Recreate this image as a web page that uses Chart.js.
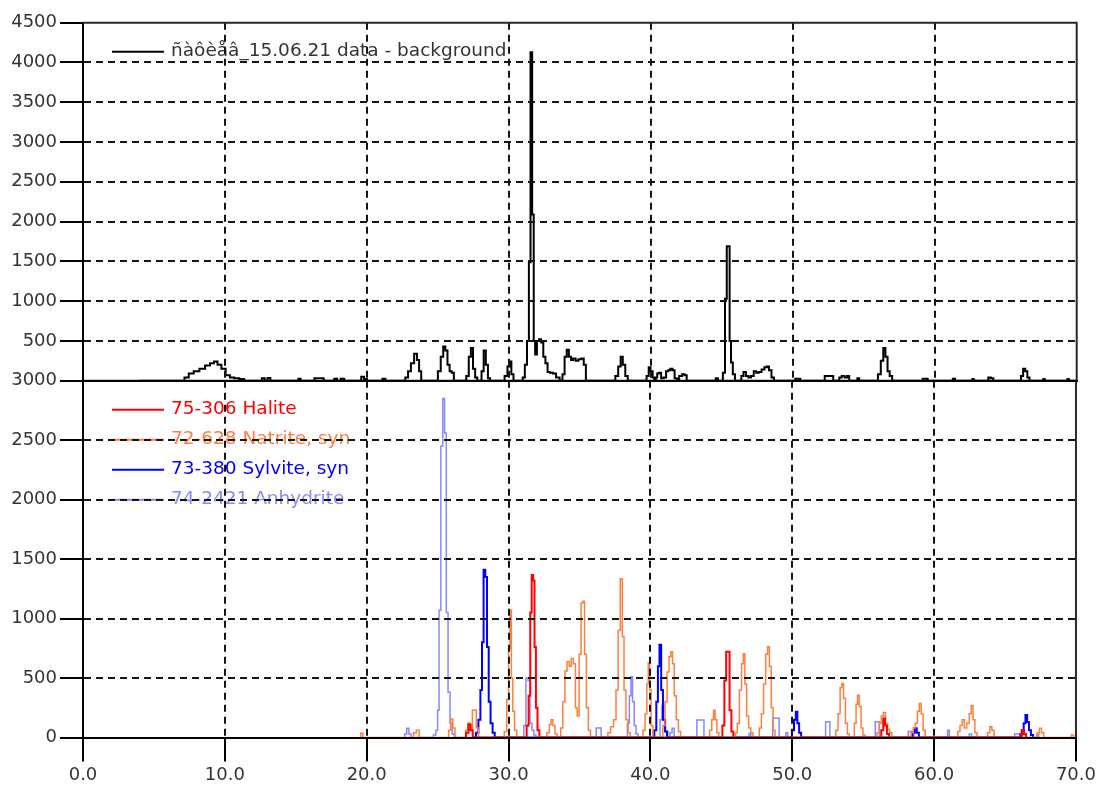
<!DOCTYPE html>
<html>
<head>
<meta charset="utf-8">
<script src="https://cdn.jsdelivr.net/npm/chart.js@4"></script>
<style>
  html, body { margin: 0; padding: 0; background: #fff; }
  #wrap { position: relative; width: 1099px; height: 787px; }
  canvas { position: absolute; left: 0; }
  #top-chart { top: 0; }
  #bottom-chart { top: 360px; }
</style>
</head>
<body>
<div id="wrap">
  <canvas id="bottom-chart" width="1099" height="427"></canvas>
  <canvas id="top-chart" width="1099" height="401"></canvas>
</div>
<script>
// 2-theta axis and intensity ticks
const twoThetaTicks = [0, 10, 20, 30, 40, 50, 60, 70];
const measuredTicks = [0, 500, 1000, 1500, 2000, 2500, 3000, 3500, 4000, 4500];
const referenceTicks = [0, 500, 1000, 1500, 2000, 2500, 3000];

// measured pattern, background removed: [2theta, counts]
const measuredLabel = 'ñàôèåâ_15.06.21 data - background';
const measured = [
  [4.0,0],[7.0,0],[7.3,40],[7.6,90],[8.0,120],[8.4,150],[8.8,190],[9.1,220],[9.35,240],[9.6,200],[9.9,150],[10.2,70],[10.5,40],[10.8,30],[11.2,20],[11.5,0],
  [12.5,0],[12.7,30],[12.9,0],[13.1,35],[13.3,0],
  [15.1,0],[15.25,25],[15.4,0],
  [16.2,0],[16.4,30],[16.8,30],[17.1,0],[17.6,0],[17.8,25],[18.0,0],[18.3,25],[18.5,0],
  [19.5,0],[19.7,50],[19.9,20],[20.1,0],
  [21.0,0],[21.2,25],[21.4,0],
  [22.6,0],[22.8,40],[23.0,120],[23.2,220],[23.45,340],[23.6,260],[23.75,120],[23.9,0],
  [24.9,0],[25.1,120],[25.3,300],[25.45,430],[25.6,380],[25.75,200],[25.9,120],[26.05,100],[26.2,0],
  [26.9,0],[27.1,60],[27.25,300],[27.4,410],[27.55,150],[27.7,40],[27.85,0],
  [28.0,0],[28.15,120],[28.3,380],[28.45,200],[28.6,30],[28.75,0],
  [29.6,0],[29.8,60],[30.0,180],[30.1,240],[30.25,80],[30.4,0],
  [30.9,0],[31.05,40],[31.2,200],[31.35,500],[31.47,1490],[31.58,4130],[31.7,2090],[31.8,500],[31.9,330],[32.05,500],[32.2,520],[32.35,480],[32.5,300],[32.65,220],[32.8,110],[33.0,100],[33.2,90],[33.45,40],[33.7,0],
  [33.85,80],[34.0,300],[34.15,390],[34.3,300],[34.45,260],[34.6,280],[34.8,250],[35.0,270],[35.2,280],[35.35,200],[35.5,0],
  [37.4,0],[37.6,60],[37.8,180],[37.95,300],[38.1,200],[38.3,60],[38.45,0],
  [39.6,0],[39.8,60],[39.9,170],[40.05,120],[40.2,40],[40.3,0],[40.4,40],[40.5,90],[40.65,100],[40.8,30],[41.0,40],[41.15,120],[41.3,130],[41.45,150],[41.6,130],[41.75,30],[41.9,20],[42.1,60],[42.3,80],[42.45,70],[42.6,0],
  [44.5,0],[44.65,30],[44.8,0],
  [45.0,0],[45.15,100],[45.3,1030],[45.4,1690],[45.5,1690],[45.6,500],[45.7,230],[45.85,80],[46.0,0],
  [46.3,0],[46.45,60],[46.6,110],[46.8,60],[46.95,40],[47.15,60],[47.35,120],[47.5,100],[47.7,110],[47.9,140],[48.1,170],[48.25,180],[48.4,130],[48.6,40],[48.75,0],
  [50.1,0],[50.25,25],[50.45,25],[50.6,0],
  [52.2,0],[52.3,60],[52.8,60],[52.9,0],[53.2,0],[53.35,40],[53.55,60],[53.75,40],[53.9,60],[54.05,0],[54.5,0],[54.6,30],[54.75,0],
  [55.9,0],[56.1,80],[56.3,250],[56.45,410],[56.6,300],[56.75,120],[56.9,60],[57.1,0],
  [59.1,0],[59.2,25],[59.45,25],[59.55,0],
  [61.2,0],[61.35,25],[61.5,0],
  [62.6,0],[62.7,20],[62.8,0],
  [63.7,0],[63.85,40],[64.05,30],[64.2,0],
  [66.0,0],[66.15,60],[66.3,150],[66.45,120],[66.6,40],[66.75,0],
  [67.6,0],[67.7,20],[67.8,0],
  [69.3,0],[69.4,20],[69.5,0],[70,0]
];

// reference patterns
const phaseLabels = ['75-306 Halite', '72-628 Natrite, syn', '73-380 Sylvite, syn', '74-2421 Anhydrite'];
const phaseColors = ['#ff0000', '#ff7f3f', '#0000ff', '#8888ff'];

const halite = [
  [26.9,0],[27.1,40],[27.25,110],[27.4,60],[27.55,0],
  [31.2,0],[31.35,100],[31.48,350],[31.58,1050],[31.68,1366],[31.78,1320],[31.88,760],[31.98,250],[32.1,60],[32.25,0],
  [45.0,0],[45.15,100],[45.28,480],[45.4,720],[45.52,720],[45.64,230],[45.78,50],[45.9,0],
  [56.2,0],[56.35,60],[56.48,160],[56.6,100],[56.75,30],[56.9,0],
  [66.0,0],[66.15,30],[66.28,64],[66.4,30],[66.55,0]
];

const natrite = [
  [19.5,0],[19.65,35],[19.8,0],
  [23.2,0],[23.4,40],[23.6,60],[23.8,0],
  [25.7,0],[25.85,60],[26.0,155],[26.15,80],[26.3,0],
  [26.9,0],[27.05,60],[27.2,120],[27.4,60],[27.5,230],[27.65,230],[27.8,80],[27.95,0],
  [29.6,0],[29.8,50],[29.95,320],[30.05,750],[30.15,1070],[30.25,500],[30.35,220],[30.5,60],[30.65,0],
  [32.6,0],[32.8,40],[32.95,110],[33.05,150],[33.2,100],[33.35,30],[33.5,0],
  [33.6,0],[33.75,80],[33.9,300],[34.05,560],[34.2,640],[34.35,600],[34.5,665],[34.65,620],[34.78,250],[34.9,180],[35.05,700],[35.18,1130],[35.3,1145],[35.42,700],[35.55,250],[35.7,60],[35.85,0],
  [36.9,0],[37.1,40],[37.3,90],[37.5,150],[37.65,400],[37.8,900],[37.95,1335],[38.08,850],[38.2,400],[38.35,150],[38.5,40],[38.65,0],
  [39.4,0],[39.55,60],[39.7,200],[39.8,450],[39.9,630],[40.0,400],[40.1,100],[40.25,0],
  [40.8,0],[40.95,100],[41.1,300],[41.25,550],[41.38,680],[41.5,720],[41.62,620],[41.75,350],[41.9,150],[42.05,50],[42.2,0],
  [44.1,0],[44.25,60],[44.4,150],[44.5,230],[44.62,150],[44.75,40],[44.9,0],
  [45.9,0],[46.05,40],[46.2,120],[46.35,400],[46.5,620],[46.6,705],[46.72,450],[46.85,180],[47.0,80],[47.15,40],[47.3,0],
  [47.6,0],[47.75,80],[47.9,200],[48.05,450],[48.2,700],[48.32,763],[48.45,600],[48.58,250],[48.72,60],[48.85,0],
  [53.0,0],[53.15,60],[53.3,200],[53.45,420],[53.55,455],[53.68,330],[53.82,120],[53.95,30],[54.1,0],
  [54.3,0],[54.45,120],[54.55,280],[54.65,355],[54.78,260],[54.92,80],[55.05,20],[55.2,0],
  [55.9,0],[56.05,40],[56.2,120],[56.35,180],[56.5,210],[56.65,120],[56.8,70],[56.95,40],[57.1,0],
  [58.3,0],[58.45,40],[58.6,80],[58.75,120],[58.9,220],[59.02,285],[59.15,200],[59.3,60],[59.45,0],
  [61.6,0],[61.75,50],[61.9,100],[62.05,150],[62.2,80],[62.4,120],[62.55,200],[62.68,270],[62.8,150],[62.95,40],[63.1,0],
  [63.7,0],[63.85,40],[64.0,90],[64.15,60],[64.3,0],
  [67.2,0],[67.35,40],[67.5,77],[67.65,40],[67.8,0],
  [69.6,0],[69.75,20],[69.9,0]
];

const sylvite = [
  [27.6,0],[27.8,40],[27.95,150],[28.08,400],[28.18,800],[28.3,1410],[28.42,1350],[28.54,760],[28.66,300],[28.8,120],[28.95,40],[29.1,0],
  [40.2,0],[40.35,60],[40.48,300],[40.58,600],[40.7,780],[40.82,400],[40.95,150],[41.1,50],[41.25,0],
  [49.9,0],[50.05,60],[50.2,150],[50.3,217],[50.42,120],[50.55,40],[50.7,0],
  [58.4,0],[58.55,40],[58.7,77],[58.85,40],[59.0,0],
  [66.1,0],[66.25,60],[66.38,120],[66.5,190],[66.62,130],[66.75,60],[66.9,20],[67.05,0]
];

const anhydrite = [
  [22.6,0],[22.75,30],[22.9,77],[23.05,30],[23.2,0],
  [24.6,0],[24.8,20],[24.95,60],[25.05,230],[25.15,1070],[25.3,2450],[25.43,2850],[25.55,2560],[25.67,1050],[25.8,380],[25.95,120],[26.1,30],[26.25,0],
  [31.0,0],[31.15,100],[31.3,500],[31.45,480],[31.58,120],[31.72,60],[31.85,20],[32.0,0],
  [36.1,0],[36.25,80],[36.45,80],[36.6,0],
  [38.3,0],[38.45,120],[38.58,350],[38.68,510],[38.8,300],[38.92,100],[39.05,30],[39.2,0],
  [40.6,0],[40.75,150],[40.88,270],[41.0,150],[41.15,50],[41.3,0],[41.45,40],[41.6,77],[41.75,0],
  [43.2,0],[43.35,147],[43.7,147],[43.85,0],
  [46.9,0],[47.0,34],[47.15,0],
  [48.55,0],[48.7,161],[49.0,161],[49.15,0],[49.5,0],[49.6,40],[49.75,0],
  [52.3,0],[52.4,133],[52.6,133],[52.7,0],
  [55.8,0],[55.9,133],[56.1,133],[56.2,0],
  [58.1,0],[58.25,50],[58.5,50],[58.65,0],
  [60.9,0],[61.0,60],[61.15,0],
  [62.4,0],[62.55,30],[62.75,0],
  [65.6,0],[65.75,30],[66.0,30],[66.1,0],
  [67.2,0],[67.3,30],[67.45,0]
];

const FONT = 'DejaVu Sans';
const GRID = '#151515';
const PLOT_LEFT = 83;
const PLOT_RIGHT = 1076.7;

const toPoints = arr => arr.map(([x, y]) => ({ x, y }));

// grid line hidden on the frame edges, dashed inside
function innerGrid(lo, hi) {
  return ctx => (ctx.tick && (ctx.tick.value === lo || ctx.tick.value === hi)) ? 'rgba(0,0,0,0)' : GRID;
}

// line + coloured label, drawn under the grid like the rest of the plot
const seriesKey = {
  id: 'seriesKey',
  beforeDatasetsDraw(chart) {
    const { ctx, chartArea } = chart;
    ctx.save();
    ctx.font = '18.5px "' + FONT + '"';
    ctx.textBaseline = 'middle';
    chart.data.datasets.forEach((ds, i) => {
      const y = chartArea.top + 29 + i * 30;
      ctx.strokeStyle = ds.borderColor;
      ctx.lineWidth = 2;
      ctx.beginPath();
      ctx.moveTo(112, y);
      ctx.lineTo(164, y);
      ctx.stroke();
      ctx.fillStyle = ds.keyColor || ds.borderColor;
      ctx.fillText(ds.label, 171, y - 1);
    });
    ctx.restore();
  }
};

// top and right edges of the plot box
const frame = {
  id: 'frame',
  afterDraw(chart, args, opts) {
    const { ctx, chartArea: a } = chart;
    ctx.save();
    ctx.strokeStyle = '#2a2a2a';
    ctx.lineWidth = 2;
    ctx.beginPath();
    if (opts.top) {
      ctx.moveTo(a.left, a.top);
      ctx.lineTo(a.right + 1, a.top);
    }
    ctx.moveTo(a.right, a.top);
    ctx.lineTo(a.right, a.bottom);
    ctx.stroke();
    ctx.restore();
  }
};

function xScale(showLabels) {
  return {
    type: 'linear',
    min: twoThetaTicks[0],
    max: twoThetaTicks[twoThetaTicks.length - 1],
    afterBuildTicks: s => { s.ticks = twoThetaTicks.map(v => ({ value: v })); },
    afterFit: s => { s.height = showLabels ? 49.5 : 0; },
    ticks: {
      display: showLabels,
      padding: 3,
      color: '#333',
      font: { family: FONT, size: 18 },
      maxRotation: 0,
      callback: v => v.toFixed(1)
    },
    grid: {
      color: innerGrid(twoThetaTicks[0], twoThetaTicks[twoThetaTicks.length - 1]),
      lineWidth: 2,
      drawTicks: showLabels,
      tickLength: 24,
      tickColor: '#000',
      tickWidth: 2,
      tickBorderDash: [],
      z: 1
    },
    border: { display: true, color: '#000', width: 2, dash: [7, 5], z: 1 }
  };
}

function yScale(ticks, hideZero) {
  const top = ticks[ticks.length - 1];
  return {
    type: 'linear',
    min: ticks[0],
    max: top,
    afterBuildTicks: s => { s.ticks = ticks.map(v => ({ value: v })); },
    afterFit: s => { s.width = PLOT_LEFT; },
    ticks: {
      padding: 3,
      color: '#333',
      font: { family: FONT, size: 18 },
      callback: v => (hideZero && v === 0) ? '' : String(v)
    },
    grid: {
      color: innerGrid(ticks[0], top),
      lineWidth: 2,
      tickLength: 23,
      tickColor: '#000',
      tickWidth: 2,
      tickBorderDash: [],
      z: 1
    },
    border: { display: true, color: '#000', width: 2, dash: [7, 5], z: 1 }
  };
}

const lineStyle = { pointRadius: 0, fill: false, tension: 0, stepped: 'middle' };

// upper panel: measured pattern
new Chart(document.getElementById('top-chart'), {
  type: 'line',
  data: {
    datasets: [{
      label: measuredLabel,
      data: toPoints(measured),
      borderColor: '#000',
      keyColor: '#333',
      borderWidth: 2,
      ...lineStyle
    }]
  },
  options: {
    responsive: false,
    animation: false,
    devicePixelRatio: 1,
    layout: { autoPadding: false, padding: { top: 22.7, bottom: 401 - 380.7, left: 0, right: 1099 - PLOT_RIGHT } },
    scales: { x: xScale(false), y: yScale(measuredTicks, true) },
    plugins: { legend: { display: false }, tooltip: { enabled: false }, frame: { top: true } }
  },
  plugins: [seriesKey, frame]
});

// lower panel: reference card patterns
const phaseData = [halite, natrite, sylvite, anhydrite];
const phaseWidths = [2, 1.5, 2, 1.5];

new Chart(document.getElementById('bottom-chart'), {
  type: 'line',
  data: {
    datasets: phaseData.map((d, i) => ({
      label: phaseLabels[i],
      data: toPoints(d),
      borderColor: phaseColors[i],
      borderWidth: phaseWidths[i],
      ...lineStyle
    }))
  },
  options: {
    responsive: false,
    animation: false,
    devicePixelRatio: 1,
    layout: { autoPadding: false, padding: { top: 20.7, bottom: 0, left: 0, right: 1099 - PLOT_RIGHT } },
    scales: { x: xScale(true), y: yScale(referenceTicks, false) },
    plugins: { legend: { display: false }, tooltip: { enabled: false }, frame: { top: true } }
  },
  plugins: [seriesKey, frame]
});
</script>
</body>
</html>
